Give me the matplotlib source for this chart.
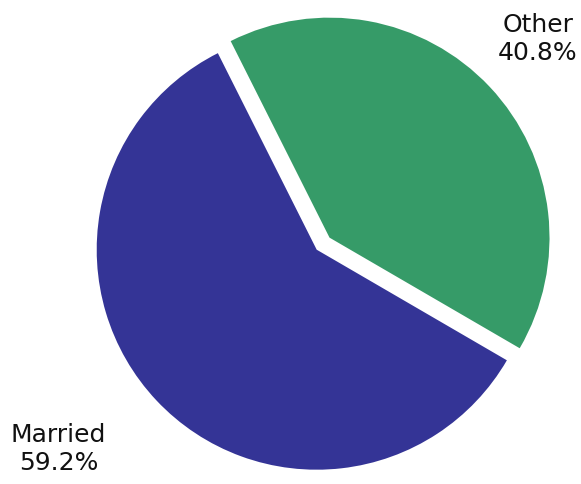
import numpy as np
import matplotlib
matplotlib.use("Agg")
import matplotlib.pyplot as plt

labels = ["Married", "Other"]
values = [59.2, 40.8]
colors = ["#343496", "#369B68"]
explode = [0.0, 0.08]

fig = plt.figure(figsize=(5.81, 4.85), dpi=100)
ax = fig.add_axes([0, 0, 1, 1])

wedges, _ = ax.pie(values, colors=colors, explode=explode, startangle=116.7,
                   counterclock=True, radius=1.0,
                   wedgeprops=dict(linewidth=0))

# label placement (layout): distance from wedge centre and angle offset
label_dist = [1.48, 1.31]
angle_off = [-5.7, 0.5]
for w, lab, val, d, ao in zip(wedges, labels, values, label_dist, angle_off):
    theta = np.deg2rad((w.theta1 + w.theta2) / 2 + ao)
    cx, cy = w.center
    ax.text(cx + d * np.cos(theta), cy + d * np.sin(theta), f"{lab}\n{val:.1f}%",
            ha="center", va="center", fontsize=18, linespacing=1.2,
            family=["DejaVu Sans"], color="#111111")

W, H = 581, 485
r_px = 220.0
cx_px, cy_px = 316.7, 250.7
ax.set_aspect("auto")
ax.set_xlim(-cx_px / r_px, (W - cx_px) / r_px)
ax.set_ylim(-(H - cy_px) / r_px, cy_px / r_px)
ax.axis("off")

fig.savefig("out.png", dpi=100)
